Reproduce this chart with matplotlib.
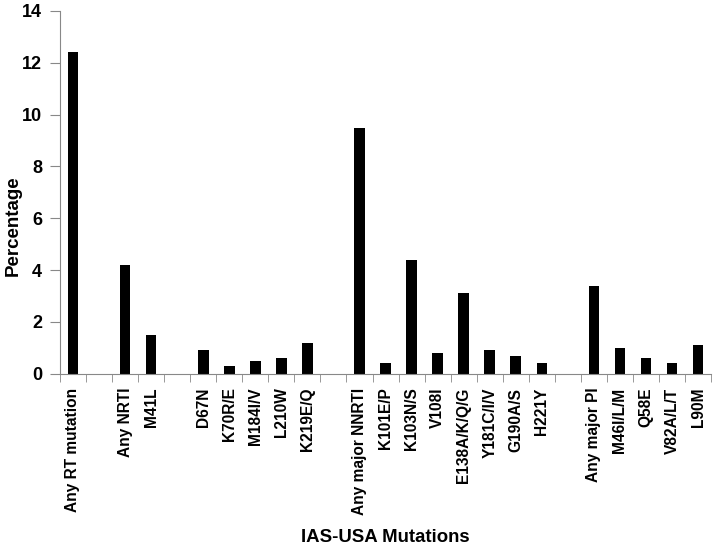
import matplotlib.pyplot as plt
import numpy as np

plt.rcParams['font.family'] = ['Liberation Sans', 'DejaVu Sans']
plt.rcParams['font.weight'] = 'bold'

# empty strings are the gaps between mutation groups
labels = ['Any RT mutation', '', 'Any NRTI', 'M41L', '',
          'D67N', 'K70R/E', 'M184I/V', 'L210W', 'K219E/Q', '',
          'Any major NNRTI', 'K101E/P', 'K103N/S', 'V108I', 'E138A/K/Q/G',
          'Y181C/I/V', 'G190A/S', 'H221Y', '',
          'Any major PI', 'M46I/L/M', 'Q58E', 'V82A/L/T', 'L90M']
values = [12.4, 0, 4.2, 1.5, 0,
          0.9, 0.3, 0.5, 0.6, 1.2, 0,
          9.5, 0.4, 4.4, 0.8, 3.1,
          0.9, 0.7, 0.4, 0,
          3.4, 1.0, 0.6, 0.4, 1.1]

fig = plt.figure(figsize=(7.14, 5.48), dpi=100)
ax = fig.add_axes([0.084, 0.318, 0.912, 0.662])

x = np.arange(len(labels))
ax.bar(x, values, width=0.41, color='black')

ax.set_xlim(-0.5, len(labels) - 0.5)
ax.set_ylim(0, 14)
ax.set_yticks(np.arange(0, 15, 2))

ax.set_xticks(x)
ax.set_xticklabels(labels, rotation=90, fontsize=11.2, fontweight='bold')
ax.set_xticks(np.arange(-0.5, len(labels), 1), minor=True)
ax.tick_params(axis='x', which='major', length=0, pad=10)
ax.tick_params(axis='x', which='minor', length=6, color='#888888', direction='out')
ax.tick_params(axis='y', length=7, color='#888888', labelsize=13, pad=6)
for t in ax.get_yticklabels():
    t.set_fontweight('bold')

for s in ['top', 'right']:
    ax.spines[s].set_visible(False)
for s in ['left', 'bottom']:
    ax.spines[s].set_color('#888888')

fig.text(0.018, 0.588, 'Percentage', rotation=90, ha='center', va='center',
         fontsize=13.5, fontweight='bold')
ax.set_xlabel('IAS-USA Mutations', fontsize=13.4, fontweight='bold', labelpad=10)

fig.savefig('out.png', dpi=100)
